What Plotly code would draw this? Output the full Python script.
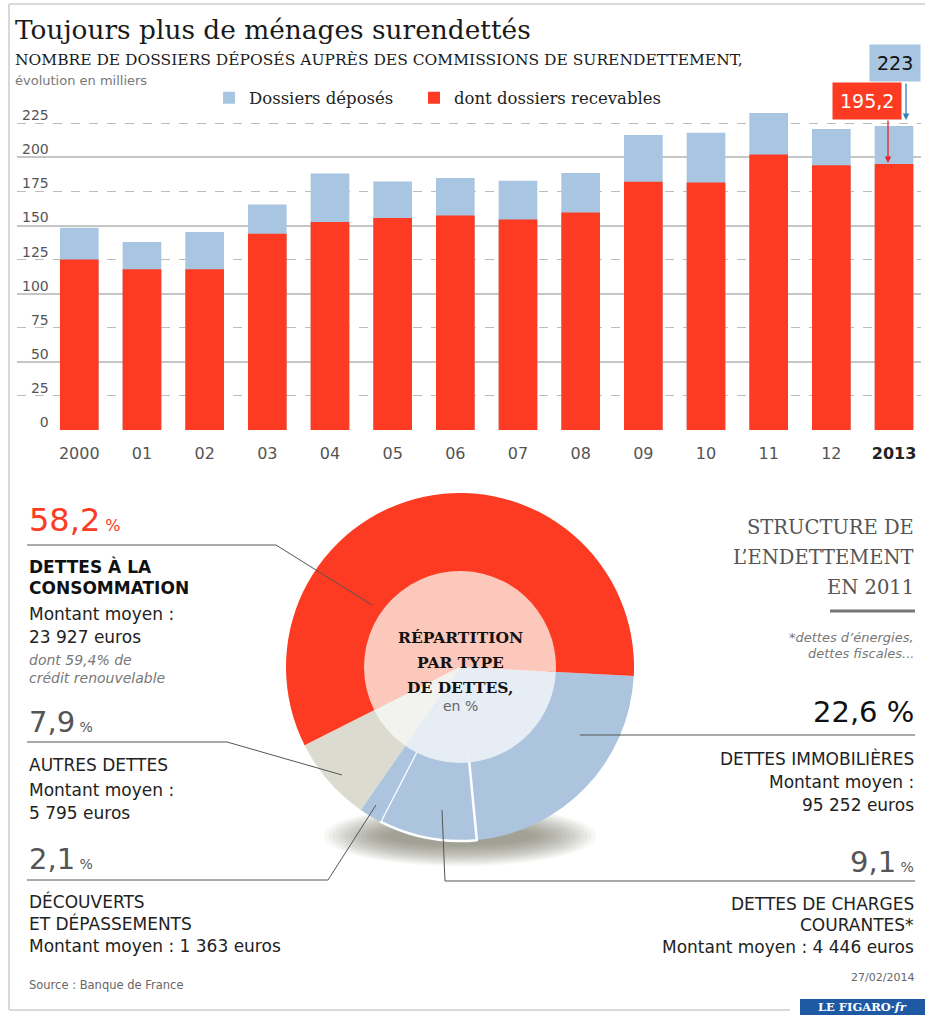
import plotly.graph_objects as go

# ---------------- data ----------------
years = ["2000", "01", "02", "03", "04", "05", "06", "07", "08", "09", "10", "11", "12", "2013"]
year_ticktext = ["2000", "01", "02", "03", "04", "05", "06", "07", "08", "09", "10", "11", "12",
                 "<b><span style='color:#222'>2013</span></b>"]
dossiers_deposes = [148.4, 137.9, 145.3, 165.5, 188.2, 182.3, 184.9, 182.9, 188.5, 216.4, 218.1, 232.5, 220.8, 223.0]
dossiers_recevables = [125.0, 118.0, 118.0, 144.0, 152.5, 155.5, 157.3, 154.5, 159.5, 182.2, 181.5, 202.2, 194.2, 195.2]
y_major_vals = [0, 50, 100, 150, 200]
y_major_text = ["\u2007\u20070", "\u200750", "100", "150", "200"]
y_minor_vals = [25, 75, 125, 175, 225]
y_minor_text = ["\u200725", "\u200775", "125", "175", "225"]

debt_types = ["Dettes immobilières", "Dettes de charges courantes", "Découverts et dépassements",
              "Autres dettes", "Dettes à la consommation"]
debt_shares = [22.6, 9.1, 2.1, 7.9, 58.2]

# ---------------- styling ----------------
W, H = 925, 1015
RED = "#fc3b22"
BLUE_BAR = "#a8c6e1"
BLUE_PIE = "#adc4de"
GREY_PIE = "#dcdbd0"
outer_colors = [BLUE_PIE, BLUE_PIE, BLUE_PIE, GREY_PIE, RED]
inner_colors = ["#e7edf5", "#e7edf5", "#e7edf5", "#f2f2ee", "#fdc8bc"]
SERIF = "DejaVu Serif"
SANS = "DejaVu Sans"


def px(x):
    return x / W


def py(y):
    return 1 - y / H


fig = go.Figure()

# ---------------- bar chart ----------------
fig.add_trace(go.Bar(x=years, y=dossiers_deposes, name="Dossiers déposés\u00a0\u00a0\u00a0",
                     marker=dict(color=BLUE_BAR, line=dict(width=0)),
                     xaxis="x", yaxis="y", hoverinfo="x+y"))
fig.add_trace(go.Bar(x=years, y=dossiers_recevables, name="dont dossiers recevables",
                     marker=dict(color=RED, line=dict(width=0)),
                     xaxis="x", yaxis="y", hoverinfo="x+y"))
# invisible carrier so that the secondary (dashed-grid) axis is drawn
fig.add_trace(go.Scatter(x=years, y=dossiers_deposes, mode="none", xaxis="x", yaxis="y2",
                         showlegend=False, hoverinfo="skip"))

# ---------------- donut ----------------
cx, cy, r_out, r_in = 460, 667, 174, 96
fig.add_trace(go.Pie(labels=debt_types, values=debt_shares, sort=False, direction="clockwise",
                     rotation=93, hole=(r_in - 8) / r_out, textinfo="none", showlegend=False,
                     marker=dict(colors=outer_colors, line=dict(color="white", width=[0, 2.5, 0, 0, 0])),
                     domain=dict(x=[px(cx - r_out), px(cx + r_out)], y=[py(cy + r_out), py(cy - r_out)]),
                     hoverinfo="label+percent"))
fig.add_trace(go.Pie(labels=debt_types, values=debt_shares, sort=False, direction="clockwise",
                     rotation=93, textinfo="none", showlegend=False,
                     marker=dict(colors=inner_colors, line=dict(width=0)),
                     domain=dict(x=[px(cx - r_in), px(cx + r_in)], y=[py(cy + r_in), py(cy - r_in)]),
                     hoverinfo="skip"))

shapes = []
# soft shadow under the donut
n_layers = 16
for i in range(n_layers):
    f = 1 - i / n_layers
    hw, hh = 70 + 66 * f, 8 + 22 * f
    shapes.append(dict(type="circle", xref="paper", yref="paper", layer="below",
                       x0=px(cx - hw), x1=px(cx + hw), y0=py(836 + hh), y1=py(836 - hh),
                       fillcolor="rgba(105,95,85,0.05)", line=dict(width=0)))


def path(points):
    return "M " + " L ".join(f"{px(a):.5f},{py(b):.5f}" for a, b in points)


LINE = dict(color="#555555", width=1)
leaders = [
    [(27, 545), (276, 545), (372, 605)],
    [(27, 742), (227, 742), (342, 775)],
    [(27, 880), (328, 880), (376, 805)],
    [(442, 810), (445, 881), (915, 881)],
    [(580, 735), (915, 735)],
]
for pts in leaders:
    shapes.append(dict(type="path", xref="paper", yref="paper", path=path(pts), line=LINE, layer="above"))

# underline of right-hand title
shapes.append(dict(type="line", xref="paper", yref="paper", x0=px(830), x1=px(915), y0=py(611), y1=py(611),
                   line=dict(color="#777777", width=3)))
# card frame
FRAME = dict(color="#d9d9d9", width=2)
shapes.append(dict(type="line", xref="paper", yref="paper", x0=px(9), x1=px(9), y0=py(4), y1=py(1010), line=FRAME))
shapes.append(dict(type="line", xref="paper", yref="paper", x0=px(9), x1=1, y0=py(4), y1=py(4), line=FRAME))
shapes.append(dict(type="line", xref="paper", yref="paper", x0=px(9), x1=px(790), y0=py(1010), y1=py(1010), line=FRAME))
# logo box
shapes.append(dict(type="rect", xref="paper", yref="paper", x0=px(800), x1=1, y0=py(1015), y1=py(999),
                   fillcolor="#1d5aa3", line=dict(width=0)))

ann = []


def text(x, y, s, size, color="#222222", anchor="left", family=SANS):
    ann.append(dict(xref="paper", yref="paper", x=px(x), y=py(y), text=s, showarrow=False,
                    xanchor=anchor, yanchor="middle", font=dict(size=size, color=color, family=family)))


# headings
text(13, 29, "Toujours plus de ménages surendettés", 26.4, "#1a1a1a", family=SERIF)
text(13, 60, "NOMBRE DE DOSSIERS DÉPOSÉS AUPRÈS DES COMMISSIONS DE SURENDETTEMENT,", 15.5, "#1a1a1a", family=SERIF)
text(13, 81, "évolution en milliers", 13, "#777777")

# 2013 call-outs
ann.append(dict(xref="x", yref="y", x=13, y=223, text="223", showarrow=False, xshift=0.5, yshift=63,
                bgcolor=BLUE_BAR, borderpad=7, font=dict(size=19, color="#111111", family=SANS)))
ann.append(dict(xref="x", yref="y", x=13, y=223, text="", showarrow=True, xshift=12, yshift=6,
                ax=0, ay=-38, arrowhead=2, arrowsize=1, arrowwidth=1.3, arrowcolor="#2f80b8"))
ann.append(dict(xref="x", yref="y", x=13, y=195.2, text="195,2", showarrow=False, xshift=-27, yshift=63,
                bgcolor=RED, borderpad=7, font=dict(size=19, color="white", family=SANS)))
ann.append(dict(xref="x", yref="y", x=13, y=195.2, text="", showarrow=True, xshift=-6, yshift=1,
                ax=0, ay=-44, arrowhead=2, arrowsize=1, arrowwidth=1.3, arrowcolor="#e8202a"))

# left column
text(27, 520, "58,2<span style='font-size:16px'> %</span>", 32, RED)
text(27, 566, "<b>DETTES À LA</b>", 17, "#111111")
text(27, 588, "<b>CONSOMMATION</b>", 17, "#111111")
text(27, 614, "Montant moyen :", 17)
text(27, 637, "23 927 euros", 17)
text(27, 660, "<i>dont 59,4% de</i>", 14, "#777777")
text(27, 678, "<i>crédit renouvelable</i>", 14, "#777777")

text(27, 722, "7,9<span style='font-size:14px'> %</span>", 29, "#555555")
text(27, 765, "AUTRES DETTES", 17)
text(27, 790, "Montant moyen :", 17)
text(27, 813, "5 795 euros", 17)

text(27, 859, "2,1<span style='font-size:14px'> %</span>", 29, "#555555")
text(27, 901, "DÉCOUVERTS", 17)
text(27, 923, "ET DÉPASSEMENTS", 17)
text(27, 946, "Montant moyen : 1 363 euros", 17)
text(27, 985, "Source : Banque de France", 11.5, "#666666")

# right column
text(916, 527, "STRUCTURE DE", 19.5, "#555555", "right", SERIF)
text(916, 557, "L’ENDETTEMENT", 19.5, "#555555", "right", SERIF)
text(916, 587, "EN 2011", 19.5, "#555555", "right", SERIF)
text(916, 637, "<i>*dettes d’énergies,</i>", 13, "#777777", "right")
text(916, 653, "<i>dettes fiscales...</i>", 13, "#777777", "right")

text(916, 712, "22,6 %", 29, "#111111", "right")
text(916, 758, "DETTES IMMOBILIÈRES", 17, "#222222", "right")
text(916, 782, "Montant moyen :", 17, "#222222", "right")
text(916, 805, "95 252 euros", 17, "#222222", "right")

text(916, 862, "9,1<span style='font-size:14px'> %</span>", 29, "#555555", "right")
text(916, 904, "DETTES DE CHARGES", 17, "#222222", "right")
text(916, 925, "COURANTES*", 17, "#222222", "right")
text(916, 947, "Montant moyen : 4 446 euros", 17, "#222222", "right")
text(916, 977, "27/02/2014", 11, "#666666", "right")
text(862, 1006.5, "<b>LE FIGARO·<i>fr</i></b>", 11.5, "white", "center", SERIF)

# donut centre
text(cx, 637, "<b>RÉPARTITION</b>", 15.5, "#111111", "center", SERIF)
text(cx, 662, "<b>PAR TYPE</b>", 15.5, "#111111", "center", SERIF)
text(cx, 687, "<b>DE DETTES,</b>", 15.5, "#111111", "center", SERIF)
text(cx, 706, "en %", 14, "#666666", "center")

# ---------------- layout ----------------
y_dom = [py(430), py(430 - 240 * (430 - 123.3) / 225)]
x_range = [(17 - 79.3) / 62.67, (921 - 79.3) / 62.67]
ytick_common = dict(zeroline=False, showline=False, ticks="", ticklabelposition="inside",
                    ticklabelshift=-8, ticklabelstandoff=2, range=[0, 240],
                    tickfont=dict(size=14, color="#555555", family=SANS))

fig.update_layout(
    width=W, height=H, margin=dict(l=0, r=0, t=0, b=0),
    paper_bgcolor="white", plot_bgcolor="rgba(0,0,0,0)",
    font=dict(family=SANS, color="#555555"),
    barmode="overlay", bargap=0.383,
    xaxis=dict(domain=[px(17), px(921)], range=x_range, type="category",
               tickvals=years, ticktext=year_ticktext, showgrid=False, showline=False, zeroline=False,
               ticks="", ticklabelstandoff=12, tickfont=dict(size=16, color="#555555", family=SANS)),
    yaxis=dict(domain=y_dom, tickvals=y_major_vals, ticktext=y_major_text,
               showgrid=True, gridcolor="#c6c6c6", gridwidth=1.5, **ytick_common),
    yaxis2=dict(overlaying="y", side="left", tickvals=y_minor_vals, ticktext=y_minor_text,
                showgrid=True, gridcolor="#bdbdbd", gridwidth=1, griddash="dash", **ytick_common),
    showlegend=True,
    legend=dict(orientation="h", x=px(209), xanchor="left", y=py(98), yanchor="middle",
                font=dict(size=16.5, color="#222222", family=SERIF), bgcolor="rgba(0,0,0,0)",
                traceorder="normal", itemclick=False, itemdoubleclick=False),
    shapes=shapes, annotations=ann,
)

fig.write_html("out.html", config={"displayModeBar": False},
               post_script="document.body.style.margin='0';document.body.style.overflow='hidden';")
